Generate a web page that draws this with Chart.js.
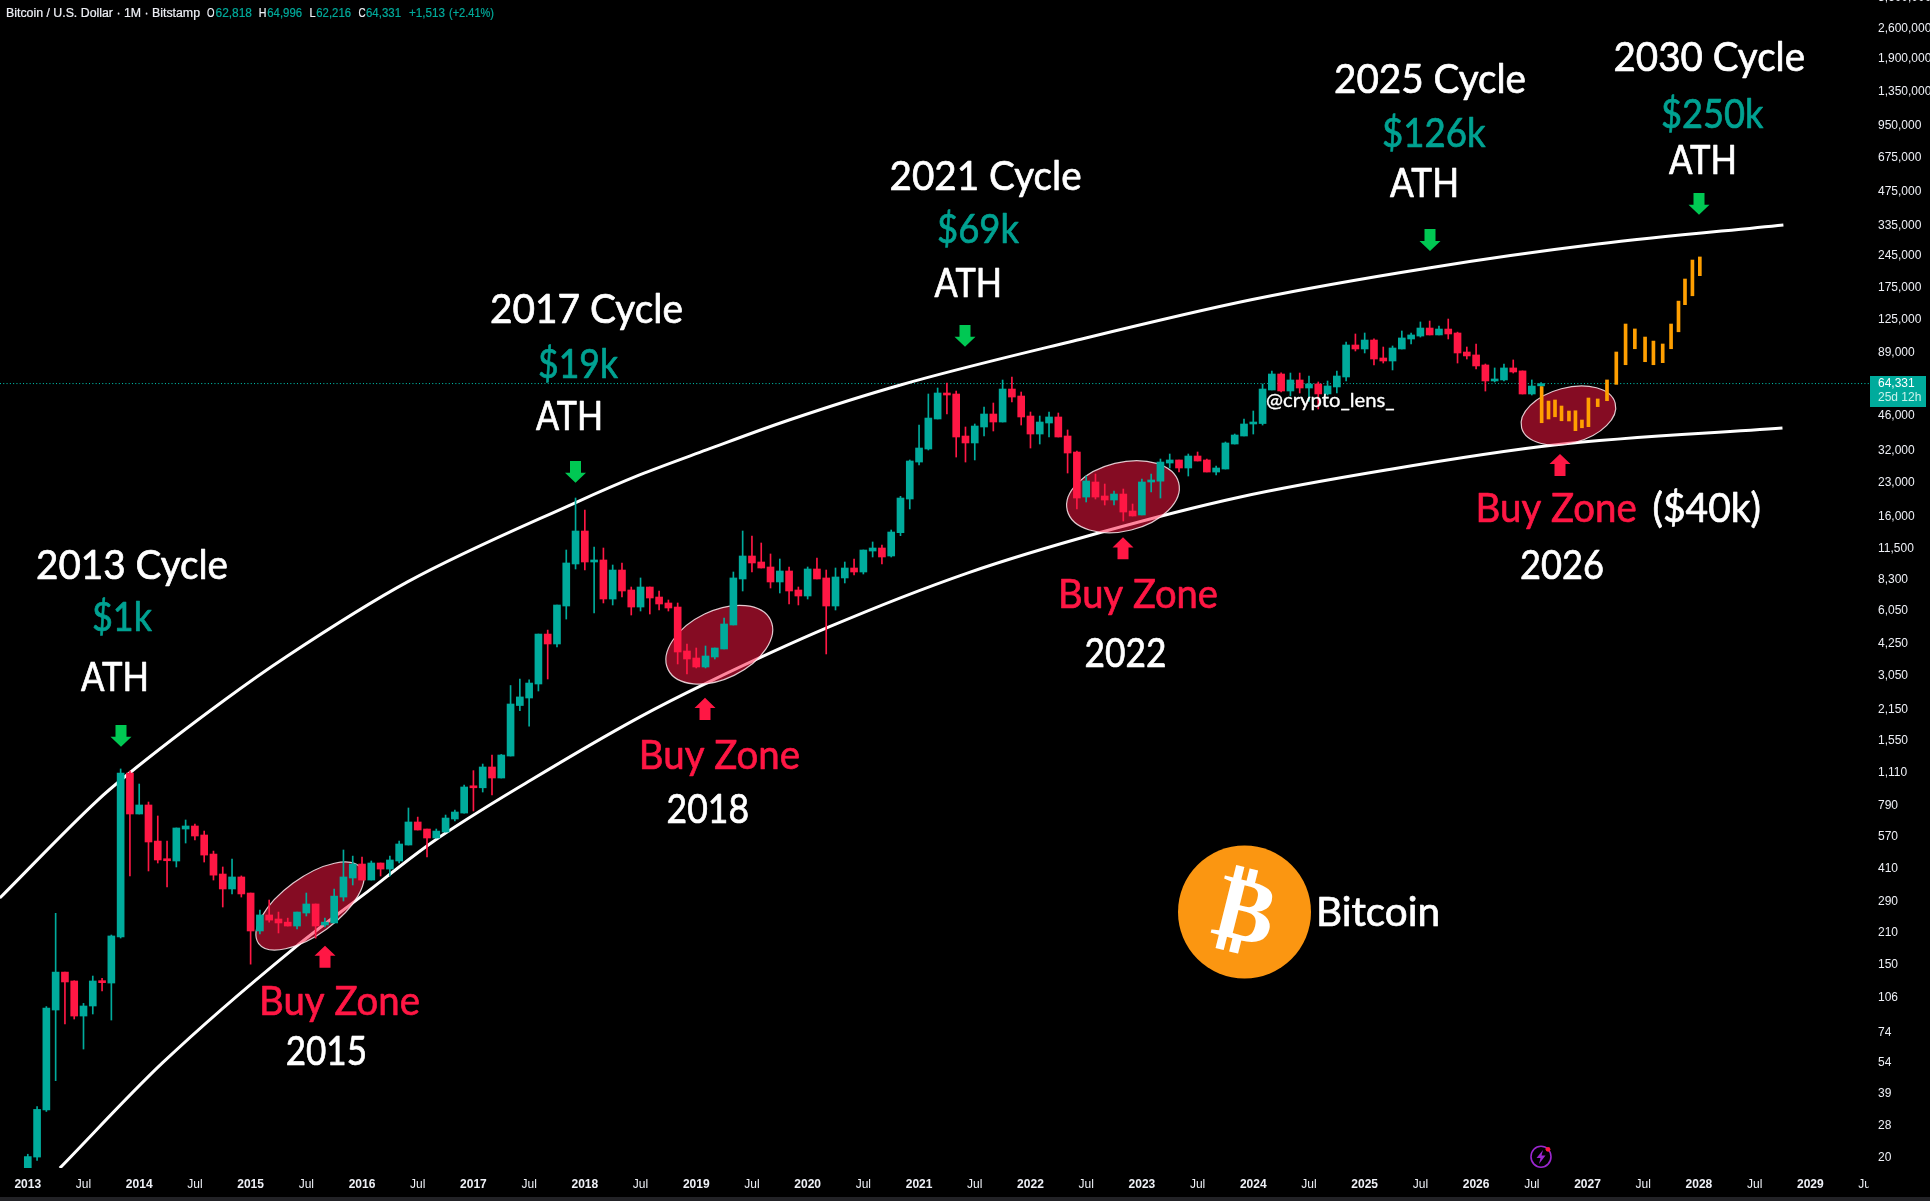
<!DOCTYPE html>
<html><head><meta charset="utf-8"><title>Bitcoin / U.S. Dollar</title>
<style>html,body{margin:0;padding:0;background:#000;overflow:hidden}canvas{display:block}</style>
<script src="https://cdn.jsdelivr.net/npm/chart.js@4/dist/chart.umd.min.js"></script>
</head><body><canvas id="c" width="1930" height="1201"></canvas>
<script>
// Monthly candles, Jan 2013 .. Aug 2026, one row per year
const opens = [
13.5,20.2,33,93.6,139,126.7,87.9,97.6,126.7,124,200.4,1108,
722.8,794,545,450,442.7,618,637.8,580.6,476,386.5,330.7,374.8,
317,213.4,252.2,241.8,234,224.7,257.4,282.8,227.1,232,304,370.8,
429,363,433.6,407,442.7,523,665,618,562.7,599,686,730,
958,950,1180,1052,1323,2240,2423,2804,4720,4256,6324,9803,
13826,10007,10220,6802,9204,7474,6257,7709,6946,6526,6257,3956,
3677,3348,3716,4039,5188,8383,10654,10007,9499,8125,9111,7474,
7019,9303,8472,6324,8472,9400,9016,11220,11580,10654,13590,19300,
28380,32510,44460,58300,57700,37230,34620,40900,46830,43080,60770,56490,
45860,38010,42640,45400,37230,31500,19700,23050,19920,19100,20330,17030,
16340,23050,23250,28090,29000,26670,30220,29000,25570,26390,34250,37230,
42200,42400,60150,71080,59530,66780,61420,64050,57730,62090,68900,96180,
92260,101300,84000,81400,92260,102400,105600,114800,106800,113600,109000,89400,
86700,78100,66100,66800,75700,73400,57700,62818];
const highs = [
20.8,34.2,97,256.6,139,127,100.3,133.4,130.2,204.6,1156,1132,
988,819,708,545,624.7,679,651,605,491,416,452,379,
317,265.6,294.7,260,244,260,317,282.8,244,330.7,496.6,466,
461.6,442.7,433.6,466.5,545,769.5,700,618,618,715,753,978,
1136,1217,1337,1345,2760,2954,2925,4720,4920,6390,11340,19500,
17210,11695,11580,9698,9905,7709,8472,7709,7396,6733,6526,4256,
4081,4168,4081,5580,9016,13826,13122,12200,10880,10325,9499,7709,
9499,10433,9204,9400,10007,10325,11340,12330,11950,13970,19850,29000,
41750,57700,61420,64700,59500,40900,42200,50370,52520,66750,68900,58900,
47820,45860,47820,47320,39660,31800,24530,25050,22570,20980,21420,18320,
23770,25050,29290,30860,29000,30860,31510,29290,27230,34980,38010,44460,
48320,64030,73350,72000,71800,71800,69600,65400,66070,73350,99240,107900,
109000,102500,94180,95200,111300,108800,122300,123500,117300,126100,110000,94200,
97200,78900,75700,78900,82300,73400,66800,64996];
const lows = [
13,19.5,32.5,44.8,80.9,85.2,62.3,89.8,114.1,84.3,198.3,378.6,
722.8,399,433.6,337.6,416,534,551,438,363,274,314,304,
151,206.8,234,209,224.7,217.9,249.5,198,222.4,232,291.7,344.7,
363,363,378.6,378.6,433.6,523,611.6,461.6,562.7,599,672,730,
746,909,881,1052,1323,2125,1807,2607,2954,4124,5520,9303,
9204,5880,6527,6392,6946,5757,6002,5818,6066,6002,3455,3112,
3314,3314,3639,4039,5188,7396,9016,9400,7630,7243,6458,6392,
6802,8383,3835,6066,8040,8737,8831,10544,9803,10544,13170,17394,
27510,32170,44460,46830,29900,28380,29000,37230,39230,43080,53070,41750,
32850,34250,36850,36850,25310,17394,18710,19300,18130,18130,15340,16170,
16340,20760,19500,26670,25570,24530,28690,25570,24790,26390,34250,37230,
38010,41750,60150,59000,56500,58300,53500,49340,57100,58300,66070,90350,
88500,78100,79700,74130,92260,97200,104500,106800,106800,102400,79700,83100,
74900,59500,65400,66100,71800,57700,57100,62216];
const closes = [
20.3,33.2,95.6,139,125.4,87.9,97.6,126.7,124.5,202.6,1108,722.8,
794,539.8,447.5,444,624.7,637.8,574.6,471,382,330.7,374.8,314,
213.4,252.2,239,232,224.7,260,282.8,224.7,234,307,374.8,429,
363,433.6,407,447.5,528.6,665,611.6,562.7,605,693,738,958,
950,1180,1052,1337,2276,2450,2832,4720,4256,6390,9905,13826,
10007,10220,6802,9204,7396,6257,7709,6875,6458,6194,3915,3639,
3348,3755,4081,5242,8472,10654,9905,9400,8125,9111,7396,7019,
9303,8383,6324,8559,9400,9016,11340,11580,10544,13681,19500,28690,
32850,44900,58300,57100,36850,34620,41320,46830,43080,60770,55900,45400,
38010,43080,45400,36850,31180,19500,23290,19700,19100,20330,16850,16170,
23050,23250,28380,29000,26670,30220,28690,25570,26670,34620,37620,42200,
42600,60770,71080,59530,66780,61420,64050,57730,62720,69600,96180,92260,
101300,83100,81400,93200,103500,106800,114800,106800,113600,107900,88500,85800,
77300,66100,67400,75700,72600,57700,62700,64331];

// Hand-drawn projection bars (month position, top price, bottom price)
const projMonths = [163.06,163.8,164.5,165.2,166,166.7,167.4,168.1,169.1,170.1,171.1,172.1,173.1,174.2,175.1,176.1,177,177.8,178.5,179.3,180.1];
const projTops = [62300,53600,54200,50900,48300,48450,43990,55340,54790,66800,89400,119700,113700,104500,100200,97200,119700,152000,191400,233300,240900];
const projBottoms = [42760,44460,45500,43650,43550,39350,40570,41050,50580,53800,63800,78300,92500,80800,78300,80000,92500,110400,146500,160700,198200];

// Channel curves
const upperMonths = [-3.02,7.54,10.56,21.2,27.8,40.9,58.9,65.9,73.1,82,94,112.2,131.9,150.9,169.1,189.1];
const upperPrices = [301,836,1074,2372,3715,8128,18500,24800,32200,43990,63400,99300,154600,214800,275500,336500];
const lowerMonths = [3.45,14.5,28.7,36.1,43.6,54.2,65.9,73.1,86.3,101.2,115.7,130.6,146.3,164.4,189];
const lowerPrices = [18,53.9,178.6,310,540,1030,1986,2831,5082,8913,13680,19720,26120,33900,40460];

const yTickValues = [3600000,2600000,1900000,1350000,950000,675000,475000,335000,245000,175000,125000,89000,46000,32000,23000,16000,11500,8300,6050,4250,3050,2150,1550,1110,790,570,410,290,210,150,106,74,54,39,28,20];
const xTickMonths = []; for (let m=0;m<=198;m+=6) xTickMonths.push(m);
const lastPrice = 64331;

const GREEN='#00ab9c', RED='#ff1744', ORANGE='#ff9f00', WHITE='#ffffff', TEAL='#00a292', ARROWG='#00c853';
const FONT='Lato, "Open Sans", sans-serif';
const UI='"Liberation Sans", Arial, sans-serif';

const idx = opens.map((_,i)=>i);
const candleColor = idx.map(i=>closes[i]>=opens[i]?GREEN:RED);

function text(ctx,str,left,right,base,color,size,family,weight){
  ctx.save();
  ctx.font=size+'px '+(family||FONT); ctx.fillStyle=color; ctx.textAlign='left'; ctx.textBaseline='alphabetic';
  const w=ctx.measureText(str).width, sx=(right-left)/w;
  ctx.translate(left,base); ctx.scale(sx,1);
  ctx.fillText(str,0,0);
  if(weight){ctx.strokeStyle=color;ctx.lineWidth=weight;ctx.lineJoin='round';ctx.strokeText(str,0,0);}
  ctx.restore();
}
function arrow(ctx,cx,tail,tip,color){
  const dir=tip>tail?1:-1, headLen=Math.abs(tip-tail)*0.46, headY=tip-dir*headLen;
  ctx.fillStyle=color; ctx.beginPath();
  ctx.moveTo(cx-5.5,tail); ctx.lineTo(cx+5.5,tail); ctx.lineTo(cx+5.5,headY); ctx.lineTo(cx+10.5,headY);
  ctx.lineTo(cx,tip); ctx.lineTo(cx-10.5,headY); ctx.lineTo(cx-5.5,headY); ctx.closePath(); ctx.fill();
}
const ellipses=[[310,906,63.6,28.4,-36.2],[719.3,644.7,56.9,34,-25.7],[1123,496.7,57.4,34.3,-13.9],[1568.4,415.5,48.4,27.7,-14.9]];
const labels=[
 ['2013 Cycle',36,228,579,WHITE],['$1k',92,152,631,TEAL],['ATH',81,149,690.7,WHITE],
 ['2017 Cycle',490,683,323,WHITE],['$19k',538,618,378,TEAL],['ATH',536,603,430,WHITE],
 ['2021 Cycle',889.5,1081.6,190,WHITE],['$69k',937,1019,243,TEAL],['ATH',934.6,1002,296.7,WHITE],
 ['2025 Cycle',1334,1526,92.7,WHITE],['$126k',1382,1485.6,146.7,TEAL],['ATH',1390,1459,196.7,WHITE],
 ['2030 Cycle',1613.5,1805,70.7,WHITE],['$250k',1661,1763.5,127.7,TEAL],['ATH',1669,1737,174,WHITE],
 ['Buy Zone',259,420,1015,RED],['2015',285.7,367,1065,WHITE],
 ['Buy Zone',638.8,800,769.3,RED],['2018',666.5,749,823,WHITE],
 ['Buy Zone',1058,1218,608.3,RED],['2022',1084.5,1166.5,666.7,WHITE],
 ['Buy Zone',1475.6,1636.7,521.7,RED],['($40k)',1652.5,1761,521.7,WHITE],['2026',1520,1604,578.6,WHITE],
 ['Bitcoin',1316,1440,926,WHITE]];
const greenArrows=[[121,725,746.7],[575.5,461,482.7],[965,325,346.7],[1430,229,251],[1699,193,214.7]];
const redArrows=[[325,967.7,945.7],[705,720,697.7],[1123,559.3,537.3],[1560,476,454]];

const overlay={
 id:'overlay',
 beforeDraw(c){const x=c.ctx;x.save();x.fillStyle='#000';x.fillRect(0,0,1930,1201);x.restore();},
 afterDatasetDraw(c,args){
  if(c.data.datasets[args.index].id!=='lower')return;
  const x=c.ctx;x.save();
  for(const [cx,cy,a,b,r] of ellipses){
    x.beginPath();x.ellipse(cx,cy,a,b,r*Math.PI/180,0,Math.PI*2);
    x.fillStyle='rgba(255,23,68,0.52)';x.fill();
    x.lineWidth=1.2;x.strokeStyle='rgba(255,235,240,0.85)';x.stroke();
  }
  x.restore();
 },
 afterDraw(c){
  const x=c.ctx;x.save();
  // clip the last time label where the price axis starts
  x.fillStyle='#000';x.fillRect(1869,1170,61,27);
  x.fillStyle='#222226';x.fillRect(0,1197,1930,4);
  for(const [s,l,r,b,col] of labels) text(x,s,l,r,b,col,40,FONT,0.7);
  text(x,'@crypto_lens_',1266,1394.6,406.7,WHITE,19,FONT,0.3);
  for(const [cx,t,tip] of greenArrows) arrow(x,cx,t,tip,ARROWG);
  for(const [cx,t,tip] of redArrows) arrow(x,cx,t,tip,RED);
  // logo
  x.beginPath();x.arc(1244.5,912,66.5,0,Math.PI*2);x.fillStyle='#fb9611';x.fill();
  x.save();x.translate(1244.5,915);x.rotate(14*Math.PI/180);
  x.fillStyle='#fff';x.font='bold 90px "DejaVu Sans"';x.textAlign='center';x.textBaseline='middle';
  x.fillText('\u20BF',0,2);x.restore();
  // header legend
  const hdr=[['Bitcoin / U.S. Dollar \u00B7 1M \u00B7 Bitstamp',6,200,'#eef0f6'],['O',207,214.5,'#eef0f6'],['62,818',215.5,252,GREEN],['H',258.8,266.5,'#eef0f6'],['64,996',267.3,302,GREEN],['L',309.4,315.5,'#eef0f6'],['62,216',316.3,351,GREEN],['C',358.4,365.5,'#eef0f6'],['64,331',366,401,GREEN],['+1,513',409,445,GREEN],['(+2.41%)',449,494,GREEN]];
  for(const [s,l,r,col] of hdr) text(x,s,l,r,17,col,12,UI,0.2);
  // price tag
  x.font='12px '+UI;x.textBaseline='middle';x.textAlign='left';
  x.fillStyle=GREEN;x.fillRect(1870,376,56,31);
  x.fillStyle='#fff';x.fillText('64,331',1878,384);
  x.fillStyle='#c9f3ec';x.fillText('25d 12h',1878,398);
  // lightning badge
  x.strokeStyle='#9c27d0';x.lineWidth=1.6;x.beginPath();x.ellipse(1541,1156.7,10,10.5,0,0,Math.PI*2);x.stroke();
  x.fillStyle='#9c27d0';x.beginPath();x.moveTo(1543,1150);x.lineTo(1536.5,1158);x.lineTo(1540.5,1158);x.lineTo(1539,1164);x.lineTo(1545.5,1155.5);x.lineTo(1541.5,1155.5);x.closePath();x.fill();
  x.fillStyle=RED;x.beginPath();x.arc(1548,1149.3,2.4,0,Math.PI*2);x.fill();
  x.restore();
 }
};

new Chart(document.getElementById('c'),{
 type:'bar',
 data:{datasets:[
  {id:'proj',type:'bar',order:0,grouped:false,barThickness:3,backgroundColor:ORANGE,
   data:projMonths.map((m,i)=>({x:m,y:[projBottoms[i],projTops[i]]}))},
  {id:'body',type:'bar',order:1,grouped:false,barThickness:7,minBarLength:2,backgroundColor:candleColor,
   data:idx.map(i=>({x:i,y:[opens[i],closes[i]]}))},
  {id:'wick',type:'bar',order:2,grouped:false,barThickness:1,backgroundColor:candleColor,
   data:idx.map(i=>({x:i,y:[lows[i],highs[i]]}))},
  {id:'lower',type:'line',order:4,borderColor:WHITE,borderWidth:3,pointRadius:0,cubicInterpolationMode:'monotone',
   data:lowerMonths.map((m,i)=>({x:m,y:lowerPrices[i]}))},
  {id:'upper',type:'line',order:5,borderColor:WHITE,borderWidth:3,pointRadius:0,cubicInterpolationMode:'monotone',
   data:upperMonths.map((m,i)=>({x:m,y:upperPrices[i]}))},
  {id:'last',type:'line',order:6,borderColor:'#00cdb9',borderWidth:1,borderDash:[1,2.3],pointRadius:0,
   data:[{x:-3,y:lastPrice},{x:198.3,y:lastPrice}]}
 ]},
 options:{
  responsive:false,devicePixelRatio:1,animation:false,
  layout:{padding:0},
  plugins:{legend:{display:false},tooltip:{enabled:false}},
  scales:{
   x:{type:'linear',bounds:'data',min:-2.994,max:198.32,offset:false,
    grid:{display:false,drawTicks:false},border:{display:false},
    afterFit(s){s.height=33;s.paddingLeft=0;s.paddingRight=0;},
    afterBuildTicks(s){s.ticks=xTickMonths.map(v=>({value:v}));},
    ticks:{autoSkip:false,maxRotation:0,padding:9,color:'#eef0f6',
     font(ctx){const v=ctx.tick&&ctx.tick.value;return {family:UI,size:12,weight:(v%12===0)?'bold':'normal'};},
     callback(v){return v%12===0?String(2013+v/12):'Jul';}}},
   y:{type:'logarithmic',bounds:'data',position:'right',min:18.02,max:3512000,
    grid:{display:false,drawTicks:false},border:{display:false},
    afterFit(s){s.width=61;s.paddingTop=0;s.paddingBottom=0;},
    afterBuildTicks(s){s.ticks=yTickValues.map(v=>({value:v}));},
    ticks:{autoSkip:false,padding:9,color:'#eef0f6',font:{family:UI,size:12},
     callback(v){return Number(v).toLocaleString('en-US');}}}
  }
 },
 plugins:[overlay]
});
</script></body></html>
